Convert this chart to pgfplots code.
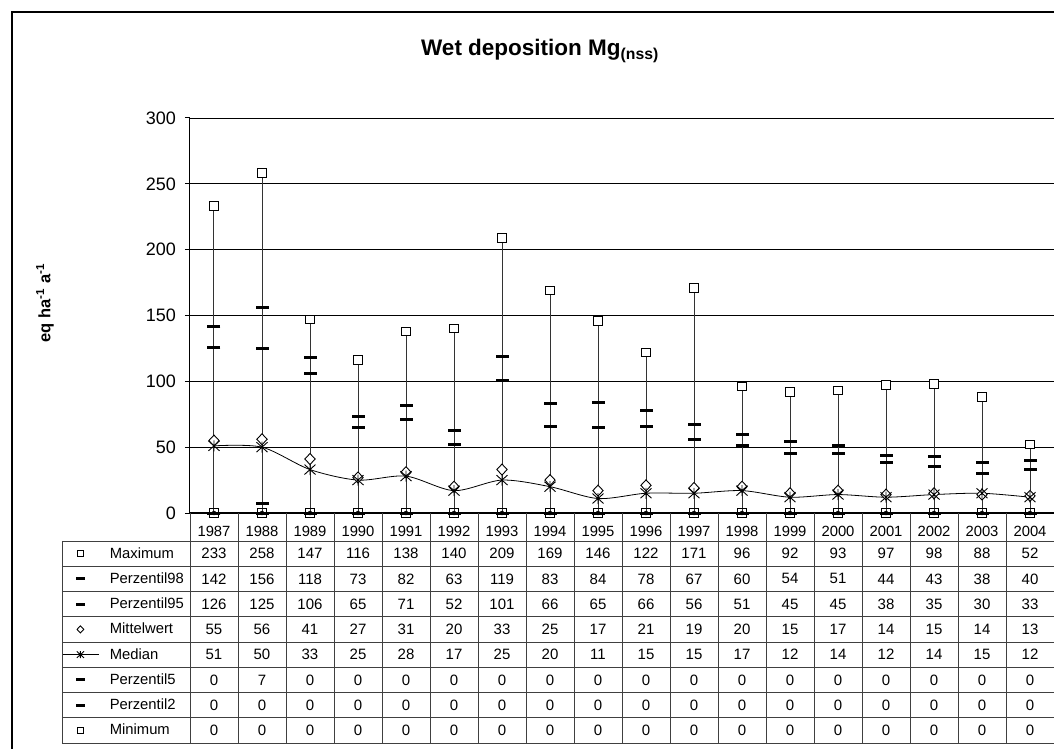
\documentclass[border=0pt]{standalone}
\usepackage{pgfplots}
\pgfplotsset{compat=1.18}
\usepackage{pgfplotstable}
\usepackage{fontspec}
\setmainfont{Liberation Sans}
\pgfdeclareplotmark{xstar}{%
  \pgfpathmoveto{\pgfqpoint{-\pgfplotmarksize}{-0.9\pgfplotmarksize}}%
  \pgfpathlineto{\pgfqpoint{\pgfplotmarksize}{0.9\pgfplotmarksize}}%
  \pgfpathmoveto{\pgfqpoint{-\pgfplotmarksize}{0.9\pgfplotmarksize}}%
  \pgfpathlineto{\pgfqpoint{\pgfplotmarksize}{-0.9\pgfplotmarksize}}%
  \pgfpathmoveto{\pgfqpoint{0pt}{-\pgfplotmarksize}}%
  \pgfpathlineto{\pgfqpoint{0pt}{\pgfplotmarksize}}%
  \pgfusepathqstroke}
\pgfplotstableread{
x year max p98 p95 mean med p5 p2 min
0 1987 233 142 126 55 51 0 0 0
1 1988 258 156 125 56 50 7 0 0
2 1989 147 118 106 41 33 0 0 0
3 1990 116 73 65 27 25 0 0 0
4 1991 138 82 71 31 28 0 0 0
5 1992 140 63 52 20 17 0 0 0
6 1993 209 119 101 33 25 0 0 0
7 1994 169 83 66 25 20 0 0 0
8 1995 146 84 65 17 11 0 0 0
9 1996 122 78 66 21 15 0 0 0
10 1997 171 67 56 19 15 0 0 0
11 1998 96 60 51 20 17 0 0 0
12 1999 92 54 45 15 12 0 0 0
13 2000 93 51 45 17 14 0 0 0
14 2001 97 44 38 14 12 0 0 0
15 2002 98 43 35 15 14 0 0 0
16 2003 88 38 30 14 15 0 0 0
17 2004 52 40 33 13 12 0 0 0
}\data
\newcommand\tabfont{\fontsize{15}{17}\selectfont}
\begin{document}
\begin{tikzpicture}
\useasboundingbox (-190pt,-236pt) rectangle (864pt,513pt);
\draw[line width=1.4pt] (-178pt,-300pt) rectangle (900pt,501pt);
\node[font=\fontsize{22.5}{24}\selectfont\bfseries] at (350pt,462pt) {Wet deposition Mg\textsubscript{(nss)}};
\node[font=\fontsize{16.5}{18}\selectfont\bfseries, rotate=90] at (-145pt,210pt) {eq ha\textsuperscript{-1} a\textsuperscript{-1}};
\begin{axis}[
  at={(0pt,0pt)}, anchor=south west,
  scale only axis, width=864pt, height=395pt,
  xmin=-0.5, xmax=17.5, ymin=0, ymax=300,
  clip=false,
  axis x line*=bottom, axis y line*=left,
  x axis line style={line width=1.4pt},
  y axis line style={line width=1pt},
  ytick={0,50,...,300},
  xtick={0,...,17},
  xticklabels from table={\data}{year},
  xtick style={draw=none},
  ytick style={black, line width=1pt},
  tick align=outside, major tick length=5pt,
  ymajorgrids, major grid style={black, line width=0.8pt},
  /pgf/number format/assume math mode=true,
  yticklabel style={font=\fontsize{18}{20}\selectfont, anchor=east, inner sep=0pt, xshift=-9pt},
  xticklabel style={font=\fontsize{14.8}{16}\selectfont, anchor=base, inner sep=0pt, yshift=-18.5pt},
  legend style={at={(axis description cs:0,0)}, anchor=north west, xshift=-128pt, yshift=-28pt,
    draw=none, fill=none, inner sep=0pt, outer sep=0pt, row sep=0pt, column sep=9pt,
    font=\fontsize{14.8}{16}\selectfont,
    cells={anchor=west, minimum height=25.25pt, inner sep=0pt}},
  legend image code/.code={\draw[mark repeat=2, mark phase=2, #1, every mark/.append style={scale=0.65}] plot coordinates {(0pt,0pt) (18pt,0pt) (36pt,0pt)};},
]
\addplot[forget plot, only marks, mark=none, error bars/.cd, y dir=plus, y explicit, error mark=none,
  error bar style={black!80, line width=1pt}]
  table[x=x, y=min, y error plus expr=\thisrow{max}-\thisrow{min}] {\data};
\addplot[only marks, mark=square*, mark size=4.3pt, mark options={black, fill=white, line width=1pt}] table[x=x, y=max] {\data};
\addlegendentry{Maximum}
\addplot[only marks, mark=-, mark size=6.5pt, mark options={black, line width=3pt}] table[x=x, y=p98] {\data};
\addlegendentry{Perzentil98}
\addplot[only marks, mark=-, mark size=6.5pt, mark options={black, line width=3pt}] table[x=x, y=p95] {\data};
\addlegendentry{Perzentil95}
\addplot[only marks, mark=diamond*, mark size=5.5pt, mark options={black, fill=white, line width=0.9pt, xscale=1.25}] table[x=x, y=mean] {\data};
\addlegendentry{Mittelwert}
\addplot[smooth, black, line width=0.8pt, mark=xstar, mark size=5.5pt, mark options={line width=0.9pt}] table[x=x, y=med] {\data};
\addlegendentry{Median}
\addplot[only marks, mark=-, mark size=6.5pt, mark options={black, line width=3pt}] table[x=x, y=p5] {\data};
\addlegendentry{Perzentil5}
\addplot[only marks, mark=-, mark size=6.5pt, mark options={black, line width=3pt}] table[x=x, y=p2] {\data};
\addlegendentry{Perzentil2}
\addplot[only marks, mark=square, mark size=4.3pt, mark options={black, line width=1pt}] table[x=x, y=min] {\data};
\addlegendentry{Minimum}
\end{axis}
% table grid
\foreach \k in {0,...,18} {\draw[black!75, line width=0.9pt] ({\k*48pt},0pt) -- ({\k*48pt},-230pt);}
\foreach \k in {0,...,8} {\draw[black!75, line width=0.9pt] (-128pt,{-28pt-\k*25.25pt}) -- (864pt,{-28pt-\k*25.25pt});}
\draw[black!75, line width=0.9pt] (-128pt,-28pt) -- (-128pt,-230pt);
% table values
\foreach \r in {0,...,17} {
  \foreach \c [count=\k from 0] in {max,p98,p95,mean,med,p5,p2,min} {
    \pgfplotstablegetelem{\r}{\c}\of\data
    \node[font=\tabfont, inner sep=0pt] at ({(\r+0.5)*48pt},{-28pt-(\k+0.5)*25.25pt}) {\pgfplotsretval};
  }
}
\end{tikzpicture}
\end{document}
